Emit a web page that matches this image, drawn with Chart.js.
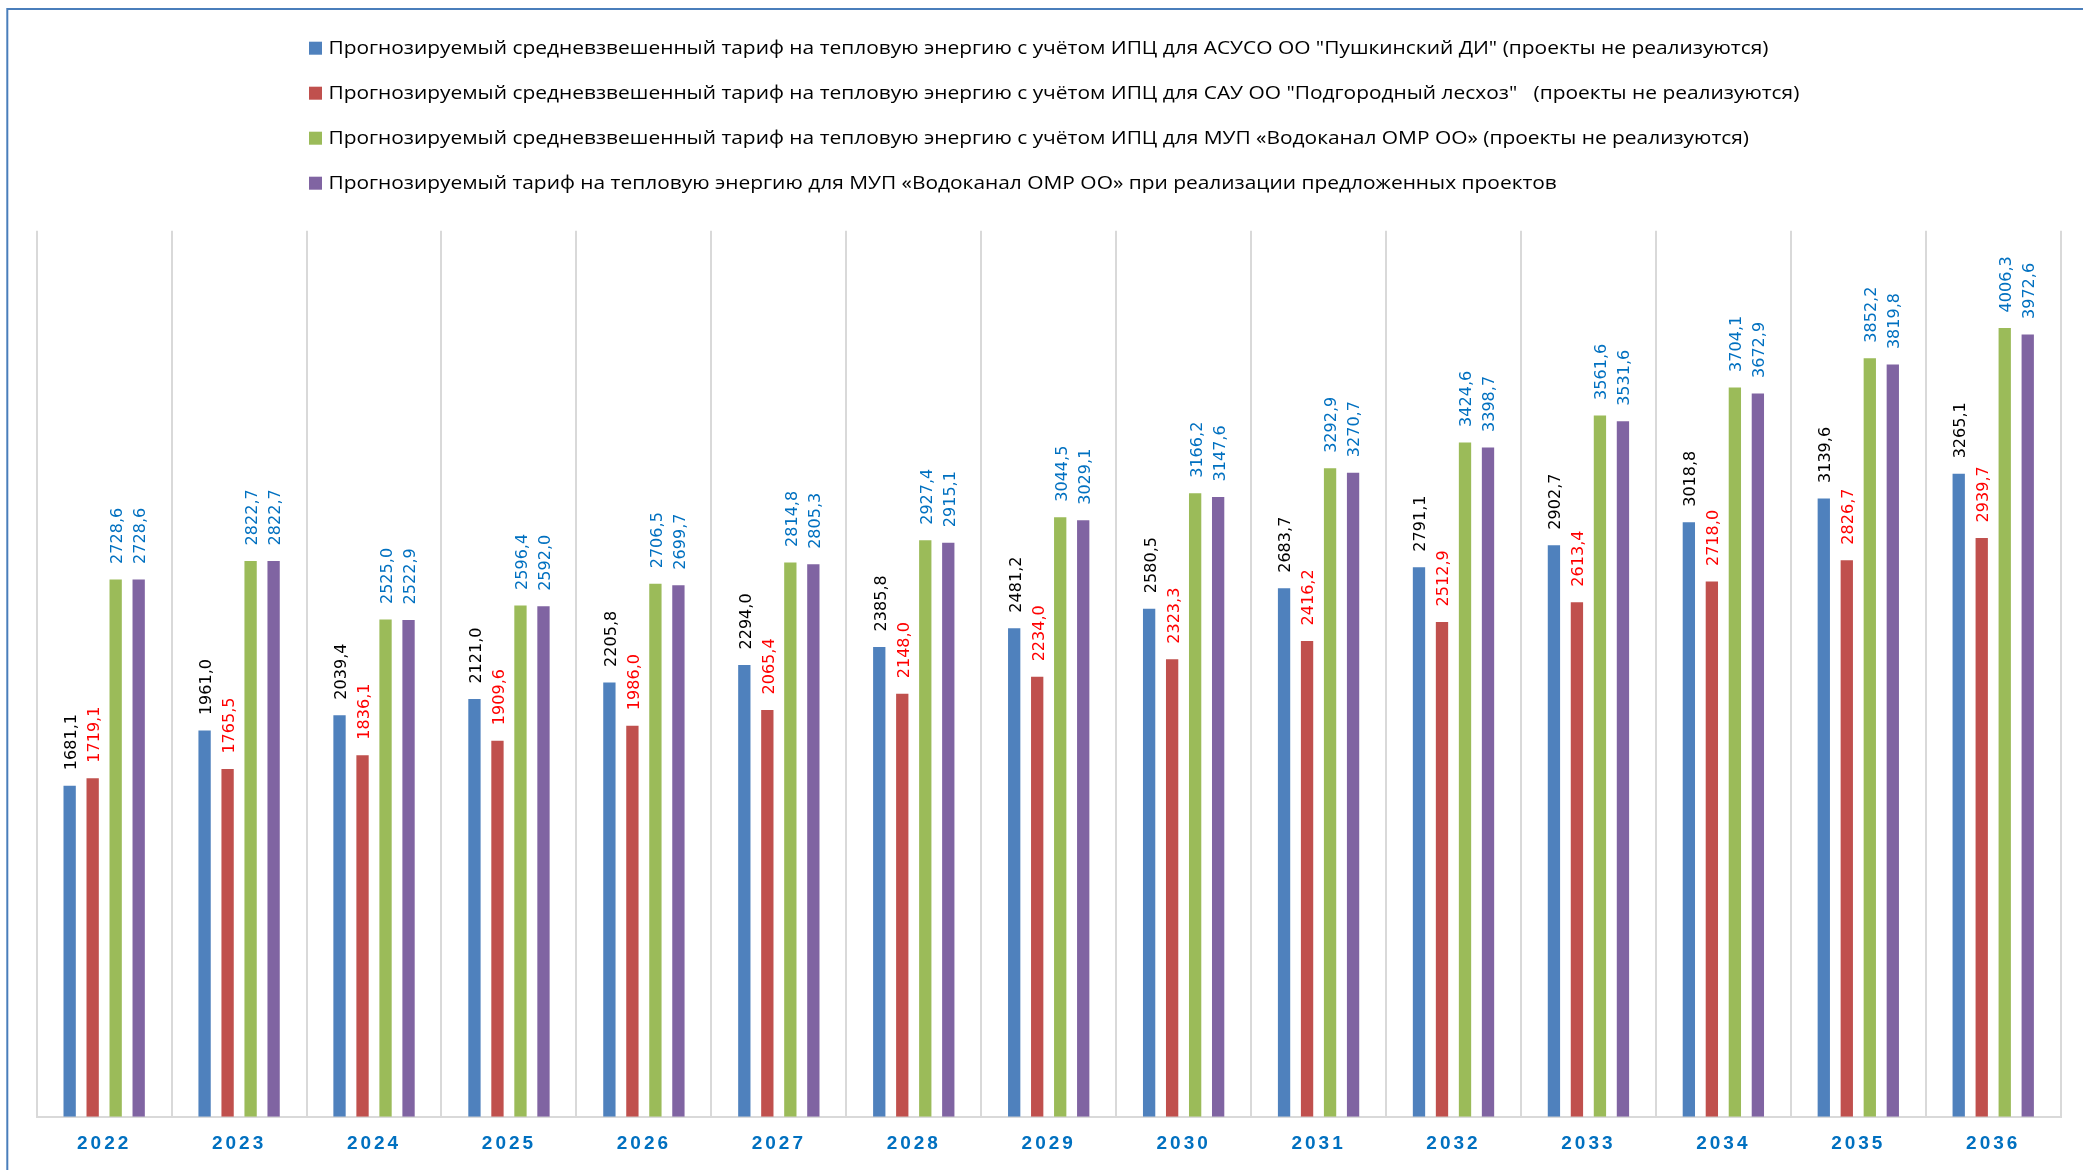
<!DOCTYPE html>
<html lang="ru">
<head>
<meta charset="utf-8">
<title>Прогнозируемый тариф на тепловую энергию</title>
<script src="https://cdn.jsdelivr.net/npm/chart.js@4.4.1/dist/chart.umd.min.js"></script>
<style>
  html, body { margin: 0; padding: 0; background: #ffffff; }
  canvas { display: block; }
</style>
</head>
<body>
<canvas id="chart" width="2083" height="1170"></canvas>
<script>
// Годы прогноза
const years = ['2022', '2023', '2024', '2025', '2026', '2027', '2028', '2029',
               '2030', '2031', '2032', '2033', '2034', '2035', '2036'];

// АСУСО ОО "Пушкинский ДИ"
const tariffPushkinsky = [1681.1, 1961.0, 2039.4, 2121.0, 2205.8, 2294.0, 2385.8, 2481.2,
                          2580.5, 2683.7, 2791.1, 2902.7, 3018.8, 3139.6, 3265.1];
// САУ ОО "Подгородный лесхоз"
const tariffLeskhoz = [1719.1, 1765.5, 1836.1, 1909.6, 1986.0, 2065.4, 2148.0, 2234.0,
                       2323.3, 2416.2, 2512.9, 2613.4, 2718.0, 2826.7, 2939.7];
// МУП «Водоканал ОМР ОО», проекты не реализуются
const tariffVodokanal = [2728.6, 2822.7, 2525.0, 2596.4, 2706.5, 2814.8, 2927.4, 3044.5,
                         3166.2, 3292.9, 3424.6, 3561.6, 3704.1, 3852.2, 4006.3];
// МУП «Водоканал ОМР ОО», при реализации проектов
const tariffProjects = [2728.6, 2822.7, 2522.9, 2592.0, 2699.7, 2805.3, 2915.1, 3029.1,
                        3147.6, 3270.7, 3398.7, 3531.6, 3672.9, 3819.8, 3972.6];

const seriesNames = [
  'Прогнозируемый средневзвешенный тариф на тепловую энергию с учётом ИПЦ для АСУСО ОО "Пушкинский ДИ" (проекты не реализуются)',
  'Прогнозируемый средневзвешенный тариф на тепловую энергию с учётом ИПЦ для САУ ОО "Подгородный лесхоз"   (проекты не реализуются)',
  'Прогнозируемый средневзвешенный тариф на тепловую энергию с учётом ИПЦ для МУП «Водоканал ОМР ОО» (проекты не реализуются)',
  'Прогнозируемый тариф на тепловую энергию для МУП «Водоканал ОМР ОО» при реализации предложенных проектов'
];

const barColors = ['#4f81bd', '#c0504d', '#9bbb59', '#8064a2'];
const valueLabelColors = ['#000000', '#ff0000', '#0070c0', '#0070c0'];
const seriesValues = [tariffPushkinsky, tariffLeskhoz, tariffVodokanal, tariffProjects];

// Рамка области диаграммы (видны верхняя и левая стороны)
const frame = {
  id: 'frame',
  beforeDraw(chart) {
    const ctx = chart.ctx;
    ctx.save();
    ctx.strokeStyle = '#4a7ebb';
    ctx.lineWidth = 2;
    ctx.beginPath();
    ctx.moveTo(7.3, chart.height + 10);
    ctx.lineTo(7.3, 9);
    ctx.lineTo(chart.width + 10, 9);
    ctx.stroke();
    ctx.restore();
    // разрядка подписей годов на оси X
    ctx.letterSpacing = '3px';
  },
  beforeDatasetsDraw(chart) {
    chart.ctx.letterSpacing = '0px';
  }
};

// Подписи значений над столбцами (повёрнуты вертикально)
const valueLabels = {
  id: 'valueLabels',
  afterDatasetsDraw(chart) {
    const ctx = chart.ctx;
    ctx.save();
    ctx.letterSpacing = '0px';
    ctx.font = '15px "DejaVu Sans", Verdana, sans-serif';
    ctx.textAlign = 'left';
    ctx.textBaseline = 'middle';
    chart.data.datasets.forEach((ds, i) => {
      const meta = chart.getDatasetMeta(i);
      ctx.fillStyle = valueLabelColors[i];
      meta.data.forEach((bar, j) => {
        const text = ds.data[j].toFixed(1).replace('.', ',');
        ctx.save();
        ctx.translate(bar.x + 2.5, bar.y - 15.5);
        ctx.rotate(-Math.PI / 2);
        ctx.scale(1.07, 1);
        ctx.fillText(text, 0, 0);
        ctx.restore();
      });
    });
    ctx.restore();
  }
};

// Легенда: четыре строки, выровненные по левому краю
const stackedLegend = {
  id: 'stackedLegend',
  afterDraw(chart) {
    const ctx = chart.ctx;
    ctx.save();
    ctx.letterSpacing = '0px';
    ctx.font = '18px "Open Sans", "Noto Sans", sans-serif';
    ctx.textBaseline = 'alphabetic';
    ctx.textAlign = 'left';
    const names = chart.data.datasets.map(d => d.label);
    const sx = 1440 / ctx.measureText(names[0]).width;
    names.forEach((name, i) => {
      const base = 54.3 + 45 * i;
      ctx.fillStyle = chart.data.datasets[i].backgroundColor;
      ctx.fillRect(309, base - 12.6, 13, 13);
      ctx.fillStyle = '#000000';
      ctx.save();
      ctx.translate(328.4, base);
      ctx.scale(sx, 1);
      ctx.fillText(name, 0, 0);
      ctx.restore();
    });
    ctx.restore();
  }
};

new Chart(document.getElementById('chart'), {
  type: 'bar',
  data: {
    labels: years,
    datasets: seriesValues.map((vals, i) => ({
      label: seriesNames[i],
      data: vals,
      backgroundColor: barColors[i],
      borderWidth: 0,
      categoryPercentage: 0.682,
      barPercentage: 0.535
    }))
  },
  options: {
    responsive: false,
    animation: false,
    devicePixelRatio: 1,
    layout: { padding: { left: 36.7, right: 22.3, top: 230.7, bottom: 0 } },
    plugins: {
      legend: { display: false },
      tooltip: { enabled: false },
      title: { display: false }
    },
    scales: {
      x: {
        afterFit(scale) { scale.height = 53.3; },
        grid: { color: '#d9d9d9', lineWidth: 2, drawTicks: false, offset: true },
        border: { color: '#d9d9d9', width: 2 },
        ticks: {
          color: '#0070c0',
          padding: 16,
          maxRotation: 0,
          font: { family: '"Liberation Sans", Arial, sans-serif', size: 19, weight: 'bold' }
        }
      },
      y: {
        display: false,
        min: 0,
        max: 4500
      }
    }
  },
  plugins: [frame, valueLabels, stackedLegend]
});
</script>
</body>
</html>
